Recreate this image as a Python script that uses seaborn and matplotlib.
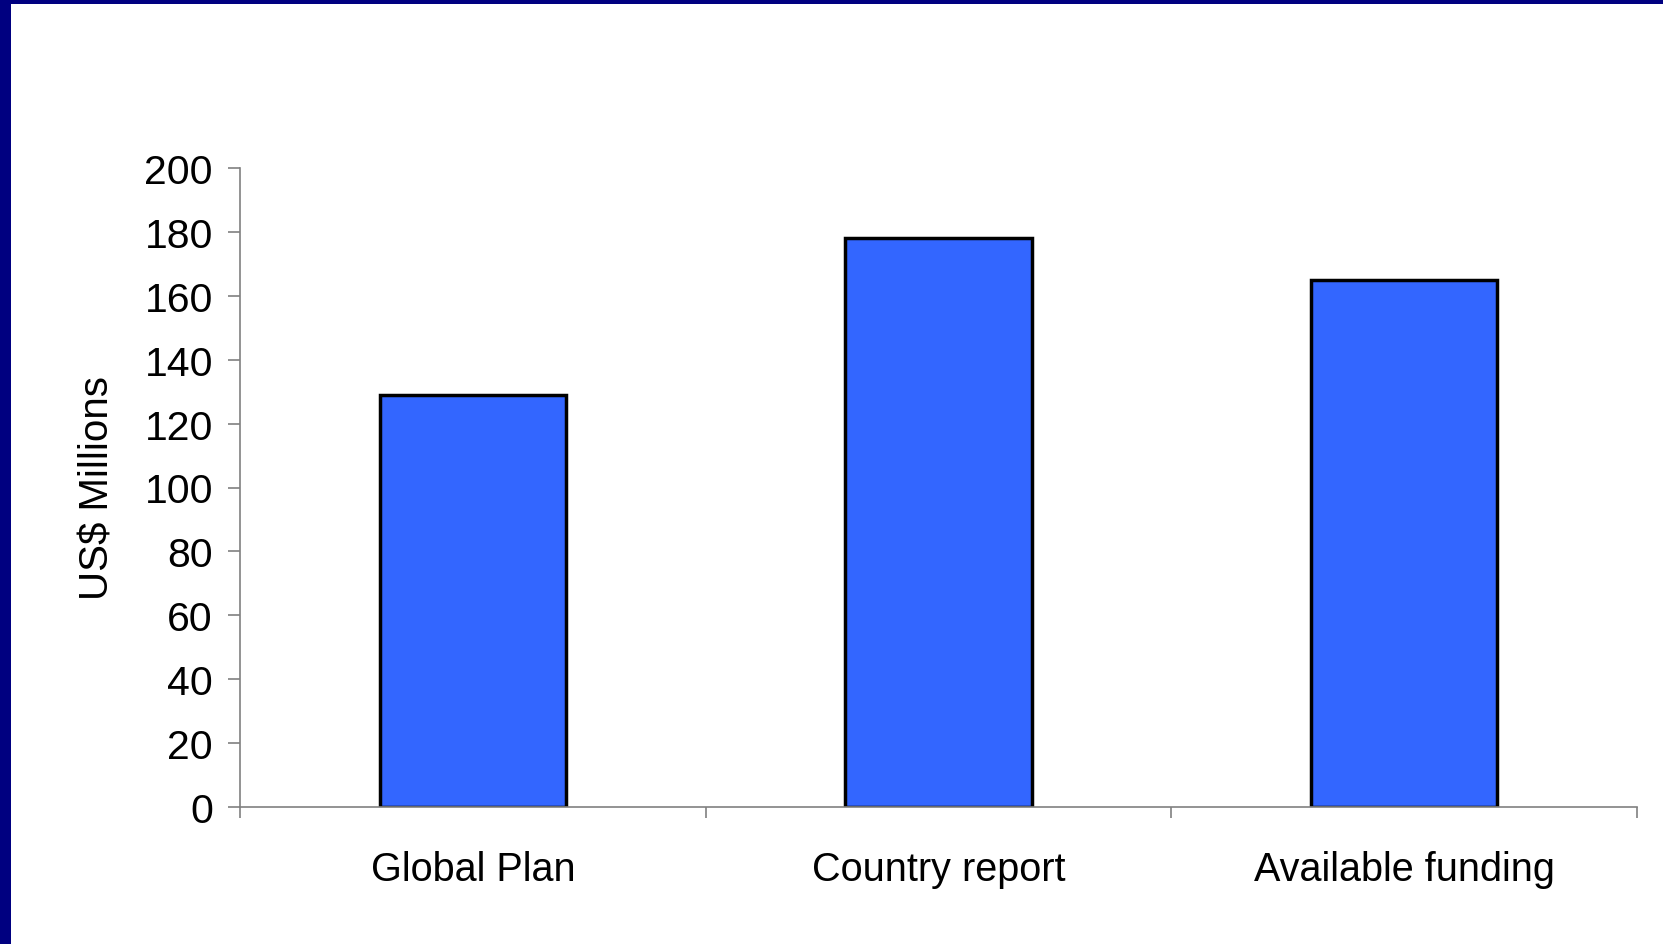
import matplotlib
matplotlib.use("Agg")
import matplotlib.pyplot as plt
from matplotlib.patches import Rectangle
import seaborn as sns
import pandas as pd

categories = ["Global Plan", "Country report", "Available funding"]
values = [129, 178, 165]
yticks = [0, 20, 40, 60, 80, 100, 120, 140, 160, 180, 200]

sns.set_style("white")
plt.rcParams["font.family"] = ["Liberation Sans", "DejaVu Sans"]
plt.rcParams["text.color"] = "black"
plt.rcParams["axes.labelcolor"] = "black"
plt.rcParams["xtick.labelcolor"] = "black"
plt.rcParams["ytick.labelcolor"] = "black"

W, H = 1663, 945
fig = plt.figure(figsize=(W / 100, H / 100), dpi=100, facecolor="#000080")
# white slide area inside the navy frame
fig.patches.append(Rectangle((11 / W, 0), 1 - 11 / W, 1 - 5 / H,
                             transform=fig.transFigure, facecolor="white",
                             edgecolor="none", zorder=-10))

ax = fig.add_axes([240 / W, 1 - 808 / H, (1637 - 240) / W, (808 - 169) / H])
ax.set_facecolor("none")

df = pd.DataFrame({"cat": categories, "val": values})
sns.barplot(data=df, x="cat", y="val", color="#3366FF", saturation=1,
            width=0.4, edgecolor="black", linewidth=2.5, ax=ax)

ax.set_xlim(-0.5, 2.5)
ax.set_ylim(0, 200)
ax.set_yticks(yticks)
ax.set_xlabel("")
ax.set_ylabel("US$ Millions", fontsize=29, labelpad=20)

for s in ["top", "right"]:
    ax.spines[s].set_visible(False)
for s in ["left", "bottom"]:
    ax.spines[s].set_color("#808080")
    ax.spines[s].set_linewidth(1.2)

ax.tick_params(axis="y", which="major", direction="out", length=8.5,
               width=1.2, color="#808080", labelsize=29.5, pad=11, left=True)
ax.tick_params(axis="x", which="major", length=0, labelsize=28.5, pad=31)
ax.set_xticks([-0.5, 0.5, 1.5, 2.5], minor=True)
ax.tick_params(axis="x", which="minor", direction="out", length=8,
               width=1.2, color="#808080", bottom=True)

fig.savefig("out.png", dpi=100, facecolor=fig.get_facecolor())
